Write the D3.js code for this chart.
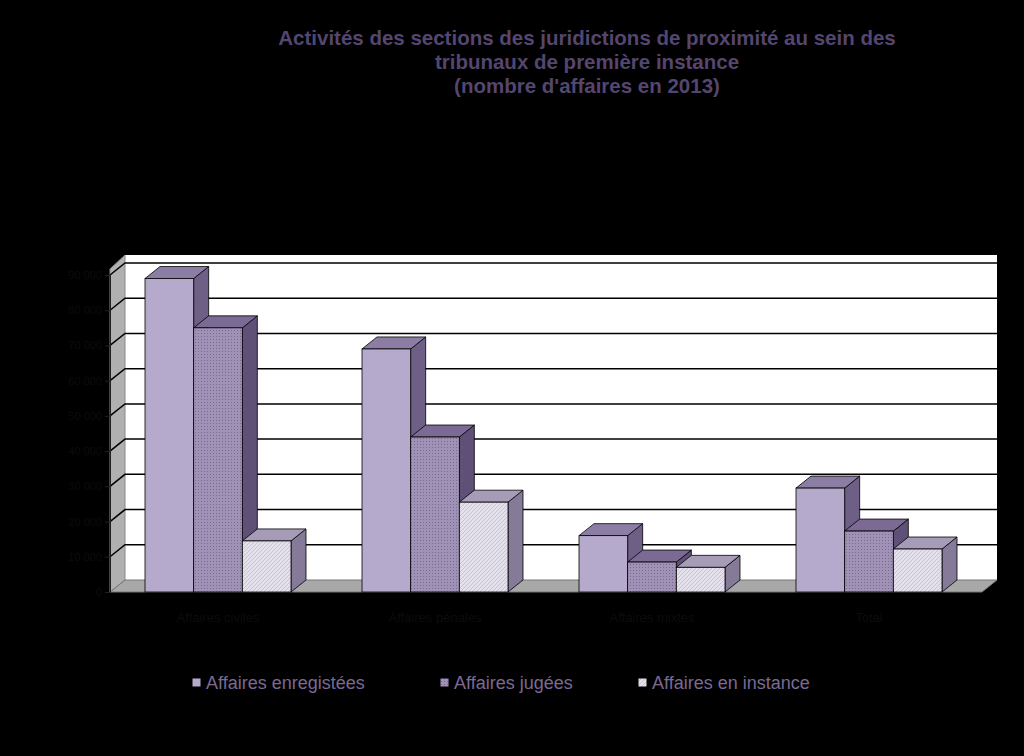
<!DOCTYPE html>
<html><head><meta charset="utf-8">
<script src="https://cdn.jsdelivr.net/npm/d3@7"></script>
<style>body{margin:0;background:#000}</style></head>
<body><svg id="c" width="1024" height="756"></svg>
<script>
const categories = ["Affaires civiles", "Affaires pénales", "Affaires mixtes", "Total"];
const seriesNames = ["Affaires enregistées", "Affaires jugées", "Affaires en instance"];
const enregistrees = [89000, 69000, 16000, 29500];
const jugees = [75000, 44000, 8500, 17300];
const instance = [14500, 25500, 7000, 12200];
const tickValues = [0,10000,20000,30000,40000,50000,60000,70000,80000,90000];
const seriesData = [enregistrees, jugees, instance];

const svg = d3.select("#c");
svg.append("rect").attr("width",1024).attr("height",756).attr("fill","#000");
const defs = svg.append("defs");
const p1 = defs.append("pattern").attr("id","dots").attr("width",3).attr("height",3).attr("patternUnits","userSpaceOnUse");
p1.append("rect").attr("width",3).attr("height",3).attr("fill","#a092b6");
p1.append("rect").attr("width",1).attr("height",1).attr("fill","#7a6a92");
const p2 = defs.append("pattern").attr("id","hatch").attr("width",4).attr("height",4).attr("patternUnits","userSpaceOnUse");
p2.append("rect").attr("width",4).attr("height",4).attr("fill","#e4e0ec");
p2.append("path").attr("d","M0,4L4,0").attr("stroke","#c8c0d6").attr("stroke-width",1);

const fronts = ["#b5aacb","url(#dots)","url(#hatch)"];
const sides = ["#6e5f86","#5f5078","#857a98"];
const tops = ["#8c7da4","#7b6b94","#a79cb8"];

const dx=15, dy=-12;
const x0=110, x1=975, yFloor=592, yTop=275;
const y = d3.scaleLinear().domain([0,90000]).range([yFloor,yTop]);
const xb = d3.scaleBand().domain(categories).range([145,145+4*217]);
const xs = d3.scaleBand().domain(d3.range(3)).range([0, 146]);

svg.append("rect").attr("x",x0+dx).attr("y",yTop-10+dy+2).attr("width",x1-x0+7).attr("height",yFloor-yTop+8).attr("fill","#fff");
svg.append("path").attr("d",`M${x0},${yTop-6}L${x0+dx},${yTop-8+dy}L${x0+dx},${yFloor+dy}L${x0},${yFloor}Z`).attr("fill","#b0b0b0").attr("stroke","#888");
svg.append("path").attr("d",`M${x0},${yFloor}L${x0+dx},${yFloor+dy}L${x1+dx+7},${yFloor+dy}L${x1+7},${yFloor}Z`).attr("fill","#a8a8a8").attr("stroke","#777");
tickValues.slice(1).forEach(v=>{
  const yy=y(v);
  svg.append("path").attr("d",`M${x0},${yy}L${x0+dx},${yy+dy}L${x1+dx+7},${yy+dy}`).attr("fill","none").attr("stroke","#000").attr("stroke-width",1.5);
});
const ax = svg.append("g").attr("transform",`translate(${x0},0)`).call(d3.axisLeft(y).tickValues(tickValues).tickSize(5).tickFormat(d=>d3.format(",")(d).replace(/,/g," ")));
ax.selectAll("text").attr("fill","#0c0c0c").attr("font-family","Arial").attr("font-size",11);
ax.selectAll("line,path").attr("stroke","#222");

categories.forEach((c,i)=>{
  [0,1,2].forEach(s=>{
    const v=seriesData[s][i];
    const bx=xb(c)+xs(s), bw=xs.bandwidth(), by=y(v);
    const g=svg.append("g");
    g.append("path").attr("d",`M${bx+bw},${by}L${bx+bw+dx},${by+dy}L${bx+bw+dx},${yFloor+dy}L${bx+bw},${yFloor}Z`).attr("fill",sides[s]).attr("stroke","#000").attr("stroke-width",0.8);
    g.append("path").attr("d",`M${bx},${by}L${bx+dx},${by+dy}L${bx+bw+dx},${by+dy}L${bx+bw},${by}Z`).attr("fill",tops[s]).attr("stroke","#000").attr("stroke-width",0.8);
    g.append("rect").attr("x",bx).attr("y",by).attr("width",bw).attr("height",yFloor-by).attr("fill",fronts[s]).attr("stroke","#000").attr("stroke-width",0.8);
  });
  svg.append("text").attr("x",xb(c)+73).attr("y",622).attr("text-anchor","middle")
    .attr("font-family","Arial").attr("font-size",13).attr("fill","#0c0c0c").text(c);
});

const title=["Activités des sections des juridictions de proximité au sein des","tribunaux de première instance","(nombre d'affaires en 2013)"];
svg.append("text").attr("font-family","Liberation Sans, Arial").attr("font-weight","bold").attr("font-size",20.5).attr("fill","#54466f").attr("text-anchor","middle")
 .selectAll("tspan").data(title).join("tspan").attr("x",587).attr("y",(d,i)=>45+i*24).text(d=>d);

const lx=[192,440,638];
seriesNames.forEach((n,i)=>{
  svg.append("rect").attr("x",lx[i]).attr("y",678).attr("width",9).attr("height",9).attr("fill",fronts[i]).attr("stroke","#000");
  svg.append("text").attr("x",lx[i]+14).attr("y",689).attr("font-family","Liberation Sans, Arial").attr("font-size",18).attr("fill","#7a6a96").text(n);
});
</script></body></html>
